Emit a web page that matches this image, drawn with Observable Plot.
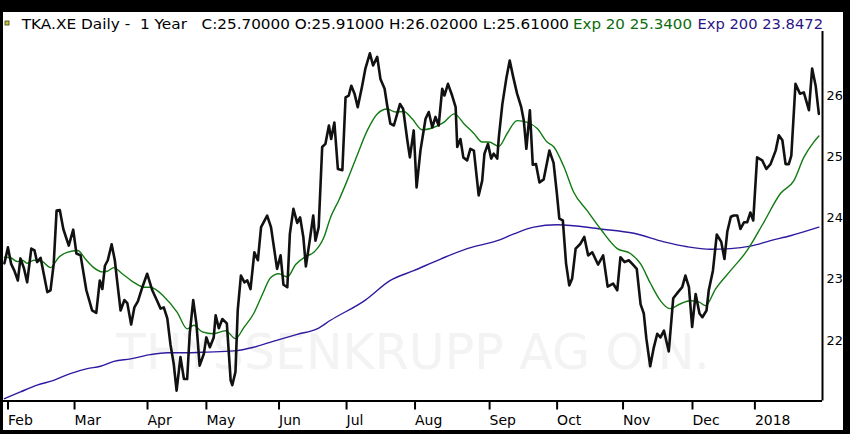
<!DOCTYPE html>
<html>
<head>
<meta charset="utf-8">
<script src="https://cdn.jsdelivr.net/npm/d3@7"></script>
<script src="https://cdn.jsdelivr.net/npm/@observablehq/plot@0.6"></script>
<style>
  html, body { margin: 0; padding: 0; }
  body { background: #000; width: 850px; height: 434px; overflow: hidden; position: relative; }
  #frame { position: absolute; left: 3px; top: 12px; width: 840px; height: 418px; background: #fff; overflow: visible; }
  #frame svg { display: block; max-width: none !important; }
</style>
</head>
<body>
<div id="frame"></div>
<script>
// ---- data (x = trading-day position from 1 Feb 2017) ----
const closeDays = [
  -0.8,0.3,1.3,2.3,3.4,4.2,5.3,6.3,7.6,8.6,
  9.4,10.5,12.6,13.6,14.6,15.5,16.5,17.6,19.3,20.7,
  21.7,23.0,24.8,26.6,27.9,29.0,29.8,30.6,31.5,32.7,
  33.7,34.4,35.5,36.7,37.6,38.8,39.8,40.9,42.3,43.8,
  45.4,46.9,48.0,49.0,50.1,51.1,52.1,53.0,54.2,55.3,
  56.3,57.1,58.2,59.2,60.2,61.5,62.3,63.4,64.6,65.2,
  66.2,67.3,68.7,69.9,70.4,71.4,72.1,73.1,74.2,75.1,
  76.1,77.3,78.4,79.4,81.3,82.5,84.4,85.5,86.4,87.6,
  88.4,89.5,90.7,91.6,92.6,93.4,94.6,95.7,96.4,97.4,
  98.5,99.5,100.6,101.3,102.3,103.4,104.8,105.8,106.8,107.6,
  108.6,109.6,111.0,112.0,113.4,114.4,115.7,116.7,118.0,118.8,
  119.8,120.9,122.8,123.8,125.1,125.9,127.1,128.0,129.2,130.8,
  131.8,132.9,133.9,134.9,136.0,136.7,137.8,139.1,140.2,140.7,
  141.7,142.6,143.8,144.8,145.9,147.4,148.5,149.2,150.3,151.3,
  152.1,153.2,153.7,154.8,156.1,157.1,158.2,159.4,160.7,161.5,
  162.3,163.4,164.3,165.3,166.4,167.7,169.5,170.8,171.8,172.6,
  173.7,174.7,175.7,176.6,177.7,179.2,180.4,181.6,182.9,184.7,
  186.3,187.7,189.4,190.7,191.7,193.0,194.3,195.4,196.8,198.0,
  199.0,199.8,201.0,202.1,203.2,204.2,205.3,206.8,208.2,209.7,
  211.0,212.0,213.1,214.1,215.2,216.4,217.3,218.6,219.3,220.6,
  221.8,223.2,224.2,225.1,226.2,227.1,228.2,229.2,230.3,231.3,
  232.3,233.2,234.4,236.0,237.3,238.6,240.2,241.2,242.3,243.3,
  244.3,245.1,246.4,247.8,249.0,250.6,251.6,252.7,253.7
];
const closeValues = [
  23.26,23.52,23.25,23.14,22.98,23.34,23.18,22.95,23.50,23.47,
  23.28,23.35,22.79,22.82,23.25,24.12,24.13,23.82,23.55,23.81,
  23.42,23.39,22.82,22.49,22.45,22.98,22.84,23.22,23.31,23.57,
  23.31,22.98,22.49,22.66,22.61,22.26,22.54,22.64,22.87,23.09,
  22.82,22.65,22.52,22.54,22.36,21.93,21.62,21.18,21.73,21.37,
  21.37,22.11,22.66,22.27,21.59,21.78,22.05,21.89,22.05,22.41,
  22.20,22.35,22.28,21.35,21.27,21.49,22.49,23.06,22.95,22.98,
  22.84,23.44,23.31,23.85,24.04,23.85,23.17,23.39,22.91,22.87,
  23.74,24.15,23.92,24.01,23.69,23.21,23.63,24.04,23.63,23.85,
  25.16,25.21,25.51,25.29,25.56,24.80,24.78,25.97,26.00,26.16,
  26.03,25.81,26.16,26.44,26.69,26.49,26.63,26.27,26.11,25.84,
  25.54,25.51,25.86,25.78,25.27,24.99,25.43,24.50,25.10,25.62,
  25.73,25.48,25.65,25.51,26.11,26.00,26.19,26.00,25.81,25.16,
  25.29,24.99,24.94,25.13,25.10,24.37,24.61,25.05,25.21,24.97,
  25.05,24.97,25.32,25.86,26.30,26.57,26.30,26.03,25.81,25.59,
  25.13,25.76,24.87,24.88,24.58,24.63,25.10,24.90,24.42,23.99,
  23.96,23.26,22.90,23.01,23.50,23.58,23.69,23.39,23.44,23.24,
  23.39,22.88,22.93,22.82,23.36,23.28,23.31,23.25,23.17,22.59,
  22.44,22.03,21.58,21.88,22.11,22.05,22.16,21.82,22.69,22.79,
  22.87,23.06,22.87,22.22,22.76,22.44,22.38,22.49,22.82,23.14,
  23.73,23.61,23.33,23.78,24.02,24.04,24.04,23.82,23.93,23.93,
  24.09,23.96,24.99,24.94,24.80,24.88,25.10,25.35,25.27,24.88,
  24.88,25.02,26.19,26.03,26.05,25.76,26.44,26.16,25.70
];
const ema20Days = [
  -0.8,1.1,3.2,4.8,6.3,8.4,11.0,13.6,16.2,18.8,
  22.1,24.5,27.1,29.8,31.3,33.4,36.0,39.6,42.8,44.8,
  49.0,53.2,56.3,58.4,61.0,64.6,68.3,71.4,74.0,77.1,
  79.8,82.3,84.9,87.6,90.2,93.3,95.9,99.0,101.1,103.7,
  106.3,109.4,112.6,115.7,118.8,121.4,124.0,126.6,129.8,132.9,
  136.5,139.8,142.8,145.9,148.5,150.6,153.7,156.3,159.4,162.6,
  165.7,168.8,170.9,174.0,177.1,181.3,185.5,190.7,194.8,198.0,
  201.1,204.2,207.1,210.5,213.4,216.2,218.3,221.4,226.1,231.3,
  236.5,241.7,245.9,249.0,252.1,253.7
];
const ema20Values = [
  23.36,23.35,23.29,23.31,23.26,23.31,23.29,23.19,23.36,23.44,
  23.47,23.33,23.19,23.12,23.13,23.19,23.09,22.95,22.87,22.87,
  22.72,22.46,22.19,22.25,22.14,22.11,22.16,22.03,22.21,22.44,
  22.75,23.02,23.09,23.04,23.24,23.37,23.44,23.68,24.01,24.29,
  24.61,25.02,25.43,25.70,25.78,25.73,25.74,25.62,25.44,25.47,
  25.56,25.70,25.54,25.38,25.24,25.24,25.17,25.38,25.59,25.56,
  25.46,25.24,25.16,24.84,24.42,24.12,23.82,23.50,23.42,23.25,
  22.93,22.65,22.52,22.60,22.65,22.63,22.57,22.84,23.14,23.47,
  23.93,24.40,24.61,24.99,25.24,25.34
];
const ema200Days = [
  -0.8,4.2,9.4,14.6,19.8,25.1,29.2,33.4,38.6,44.8,
  50.1,56.3,62.6,70.9,77.1,83.4,90.7,96.9,101.1,112.0,
  119.8,127.1,135.5,143.8,153.2,158.4,164.6,171.9,185.5,195.9,
  205.3,212.6,219.8,226.1,232.3,238.6,244.8,253.7
];
const ema200Values = [
  21.05,21.16,21.27,21.35,21.46,21.54,21.58,21.66,21.70,21.77,
  21.80,21.80,21.81,21.83,21.89,21.99,22.10,22.19,22.33,22.66,
  22.98,23.14,23.33,23.50,23.63,23.74,23.85,23.89,23.82,23.75,
  23.61,23.53,23.49,23.50,23.54,23.63,23.71,23.85
];
const monthTickDays = [0, 20.8, 43.6, 62, 84.7, 105.8, 127.2, 150.5, 171.6, 192.2, 213.9, 233.4];
const monthTickLabels = ["Feb","Mar","Apr","May","Jun","Jul","Aug","Sep","Oct","Nov","Dec","2018"];
const priceTicks = [22, 23, 24, 25, 26];
const xDomain = [-1.09, 254.84];
const yDomain = [21.012, 27.045];
const headerTexts = [
  "TKA.XE Daily -  1 Year",
  "C:25.70000 O:25.91000 H:26.02000 L:25.61000",
  "Exp 20 25.3400",
  "Exp 200 23.8472"
];
const watermark = "THYSSENKRUPP AG O.N.";

// ---- build tables ----
const toRows = (xs, ys) => xs.slice(0, Math.min(xs.length, ys.length)).map((d, i) => ({day: d, value: ys[i]}));
const closeRows = toRows(closeDays, closeValues);
const ema20Rows = toRows(ema20Days, ema20Values);
const ema200Rows = toRows(ema200Days, ema200Values);
const labelByDay = new Map(monthTickDays.map((d, i) => [d, monthTickLabels[i]]));

const chart = Plot.plot({
  width: 847,
  height: 418,
  marginLeft: 0,
  marginRight: 28,
  marginTop: 19,
  marginBottom: 29.5,
  style: {fontFamily: "DejaVu Sans", fontSize: "14px", color: "#000", background: "transparent", overflow: "visible", maxWidth: "none"},
  x: {type: "linear", domain: xDomain},
  y: {type: "linear", domain: yDomain},
  marks: [
    Plot.text([watermark], {frameAnchor: "bottom", dy: -47.5, text: d => d, fontSize: 49, fill: "#f3f3f3", fontFamily: "DejaVu Sans", lineAnchor: "middle"}),
    Plot.line(ema200Rows, {x: "day", y: "value", stroke: "#2e1aa0", strokeWidth: 1.4, curve: "monotone-x"}),
    Plot.line(ema20Rows, {x: "day", y: "value", stroke: "#127a12", strokeWidth: 1.4, curve: "monotone-x"}),
    Plot.line(closeRows, {x: "day", y: "value", stroke: "#111", strokeWidth: 2.6, strokeLinejoin: "round"}),
    Plot.ruleX([xDomain[1]], {stroke: "#000", strokeWidth: 2}),
    Plot.ruleY([yDomain[0]], {stroke: "#000", strokeWidth: 2}),
    Plot.axisX({ticks: monthTickDays, tickFormat: d => labelByDay.get(d), tickSize: 9, tickPadding: 5, textAnchor: "start", dx: 1, strokeWidth: 2, fontSize: 14, label: null}),
    Plot.axisY({anchor: "right", ticks: priceTicks, tickFormat: d => String(d), tickSize: 0, tickPadding: 4, textAnchor: "start", fontSize: 12.8, label: null})
  ]
});
document.getElementById("frame").appendChild(chart);

// ---- header line ----
const hdr = d3.select("body").append("svg")
  .attr("width", 850).attr("height", 40)
  .style("position", "absolute").style("left", "0px").style("top", "0px")
  .style("pointer-events", "none");
hdr.append("rect").attr("x", 5).attr("y", 21).attr("width", 4).attr("height", 4)
  .attr("fill", "#c4c43a").attr("stroke", "#3a3a10").attr("stroke-width", 0.8);
const headerLayout = [
  {x: 21.7, len: 165.3, color: "#000"},
  {x: 201.6, len: 367.4, color: "#000"},
  {x: 573, len: 119, color: "#0b6b0b"},
  {x: 697.5, len: 125.5, color: "#2b1485"}
];
headerTexts.forEach((t, i) => {
  const L = headerLayout[i];
  hdr.append("text")
    .attr("x", L.x).attr("y", 29.3)
    .attr("textLength", L.len).attr("lengthAdjust", "spacingAndGlyphs")
    .style("white-space", "pre")
    .attr("font-family", "DejaVu Sans").attr("font-size", 14.5)
    .attr("fill", L.color)
    .text(t);
});
</script>
</body>
</html>
